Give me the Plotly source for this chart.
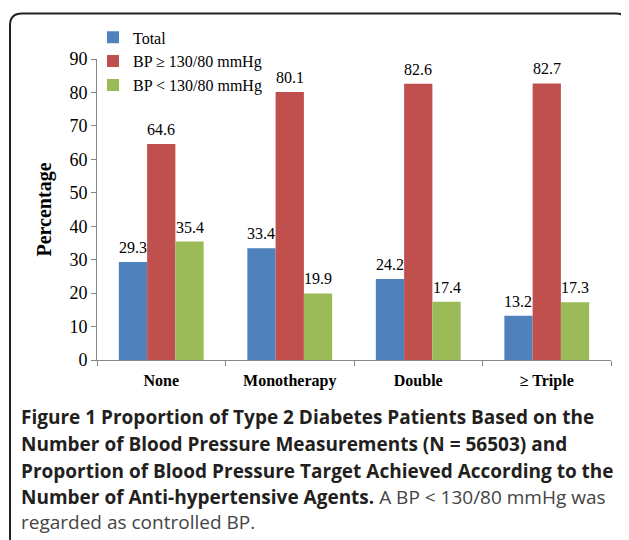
import plotly.graph_objects as go

categories = ["None", "Monotherapy", "Double", "≥ Triple"]
series_names = ["Total", "BP ≥ 130/80 mmHg", "BP < 130/80 mmHg"]
total = [29.3, 33.4, 24.2, 13.2]
bp_high = [64.6, 80.1, 82.6, 82.7]
bp_low = [35.4, 19.9, 17.4, 17.3]
y_ticks = [0, 10, 20, 30, 40, 50, 60, 70, 80, 90]
colors = ["#4F81BD", "#C0504D", "#9BBB59"]

# page body has an 8px margin: the figure is drawn at (8, 8) in the window
OFF = 8
SW, SH = 629, 540
W, H = SW - OFF, SH - OFF
X0, X1, Y0, Y1 = 97, 611, 56, 360  # plot area in window pixels
L, R, T, B = X0 - OFF, SW - X1, Y0 - OFF, SH - Y1
PW, PH = X1 - X0, Y1 - Y0


def fx(px):
    return (px - X0) / PW


def fy(py):
    return (Y1 - py) / PH


serif = "Liberation Serif, Times New Roman, serif"
fig = go.Figure()
all_series = [total, bp_high, bp_low]
for name, vals, col in zip(series_names, all_series, colors):
    fig.add_trace(go.Bar(x=categories, y=vals, name=name, marker=dict(color=col, line=dict(width=0))))

# data labels above bars
bar_px = PW / len(categories) * 0.66 / 3
for i, vals in enumerate(all_series):
    for c, v in zip(categories, vals):
        fig.add_annotation(x=c, y=v, text=f"{v:.1f}", showarrow=False, xshift=(i - 1) * bar_px,
                           yanchor="bottom", yshift=4, font=dict(family=serif, size=16, color="#000"))

# frame
pts = [(10, 560), (10, 22), (10, 10), (22, 10), (616, 10), (628, 10), (628, 22), (628, 560)]
p = [(fx(a), fy(b)) for a, b in pts]
path = (f"M {p[0][0]},{p[0][1]} L {p[1][0]},{p[1][1]} Q {p[2][0]},{p[2][1]} {p[3][0]},{p[3][1]} "
        f"L {p[4][0]},{p[4][1]} Q {p[5][0]},{p[5][1]} {p[6][0]},{p[6][1]} L {p[7][0]},{p[7][1]}")
fig.add_shape(type="path", path=path, xref="paper", yref="paper", line=dict(color="#222", width=2))

caption_lines = [
    "<b>Figure 1</b> <b>Proportion of Type 2 Diabetes Patients Based on the</b>",
    "<b>Number of Blood Pressure Measurements (N = 56503) and</b>",
    "<b>Proportion of Blood Pressure Target Achieved According to the</b>",
    "<b>Number of Anti-hypertensive Agents.</b> <span style='color:#444'>A BP &lt; 130/80 mmHg was</span>",
    "<span style='color:#444'>regarded as controlled BP.</span>",
]
caption_y = [418, 445, 472, 498, 524]
for txt, cy in zip(caption_lines, caption_y):
    fig.add_annotation(xref="paper", yref="paper", x=fx(19), y=fy(cy), xanchor="left", yanchor="middle",
                       text=txt, showarrow=False, align="left",
                       font=dict(family="Open Sans, sans-serif", size=19, color="#231f20"))

fig.update_layout(
    width=W, height=H, margin=dict(l=L, r=R, t=T, b=B),
    paper_bgcolor="white", plot_bgcolor="white",
    barmode="group", bargap=0.34, bargroupgap=0,
    showlegend=True,
    legend=dict(x=fx(93), y=fy(17), xanchor="left", yanchor="top", bgcolor="rgba(0,0,0,0)",
                font=dict(family=serif, size=16, color="#000"), tracegroupgap=0),
    xaxis=dict(showline=True, linecolor="#868686", linewidth=1, ticks="outside", tickson="boundaries",
               ticklen=5, tickcolor="#868686", showgrid=False, ticklabelstandoff=6,
               tickfont=dict(family=serif, size=16, color="#000"), tickprefix="<b>", ticksuffix="</b>"),
    yaxis=dict(range=[0, 90], tickvals=y_ticks, showline=True, linecolor="#868686", linewidth=1,
               ticks="outside", ticklen=5, tickcolor="#868686", showgrid=False, zeroline=False,
               tickfont=dict(family=serif, size=18, color="#000"),
               title=dict(text="<b>Percentage</b>", font=dict(family=serif, size=20, color="#000"), standoff=12)),
)
fig.write_html("out.html")
